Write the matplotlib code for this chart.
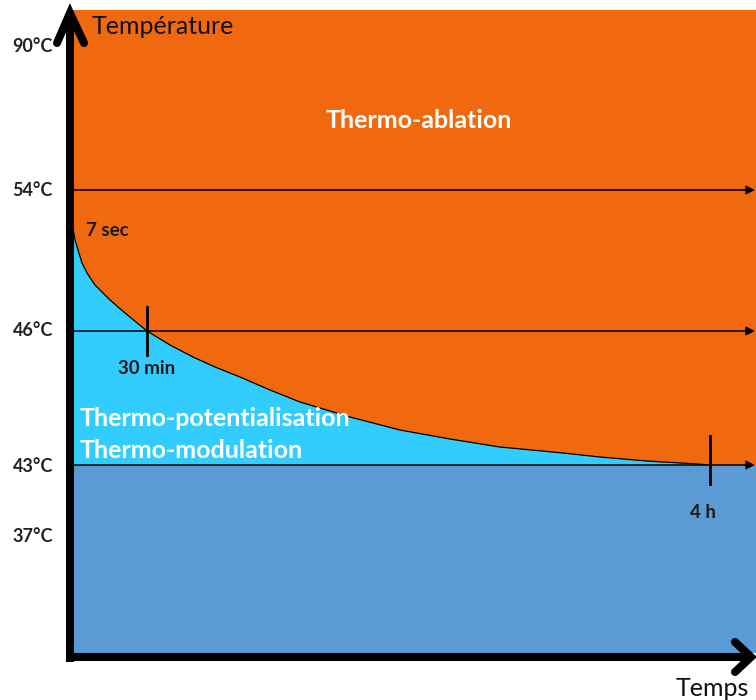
#!/usr/bin/env python3
# Schematic: thermal dose zones (ablation / potentialisation / modulation)
import matplotlib.pyplot as plt
from matplotlib.patches import Rectangle

plt.rcParams['font.family'] = ['Lato', 'DejaVu Sans']

# temperature levels shown on the left, and where they sit on the drawing
TEMP_LABELS = ["90°C", "54°C", "46°C", "43°C", "37°C"]
TEMP_POS = [47, 190, 331, 467, 537]
# thin horizontal threshold arrows (54, 46, 43 °C)
LEVEL_POS = [190, 331, 465]

# iso-effect curve (drawing units)
CURVE_X = [73, 75, 78, 82, 87, 95, 110, 125, 147, 170, 193, 215, 240, 270,
           300, 350, 400, 450, 500, 563, 600, 647, 697, 710]
CURVE_Y = [228, 240, 250, 263, 273, 285, 300, 313, 331, 345, 357, 367, 377, 390,
           402, 417, 430, 439, 447, 453, 457, 461, 464, 465]

# time marks on the curve
TIME_LABELS = ["30 min", "4 h"]
TIME_X = [147, 710]
TIME_Y = [331, 460]

ORANGE = "#F0690F"
CYAN = "#33CCFF"
BLUE = "#5B9BD5"

W, H = 756, 700
fig = plt.figure(figsize=(W / 100, H / 100), dpi=100)
ax = fig.add_axes([0, 0, 1, 1])
ax.set_xlim(0, W)
ax.set_ylim(H, 0)
ax.axis("off")

# zones
ax.add_patch(Rectangle((73, 10), W - 73, 465 - 10, color=ORANGE, lw=0, zorder=1))
ax.add_patch(Rectangle((73, 465), W - 73, 653 - 465, color=BLUE, lw=0, zorder=1))
ax.fill_between(CURVE_X, CURVE_Y, 465, color=CYAN, lw=0, zorder=2)
ax.plot(CURVE_X, CURVE_Y, color="k", lw=0.9, zorder=3)

# threshold arrows
for y in LEVEL_POS:
    ax.annotate("", xy=(755, y), xytext=(73, y), zorder=4,
                arrowprops=dict(arrowstyle="-|>", lw=1.1, color="k",
                                mutation_scale=13, shrinkA=0, shrinkB=0))

# time ticks
for x, y in zip(TIME_X, TIME_Y):
    ax.plot([x, x], [y - 24, y + 24], color="k", lw=2, zorder=5)

# main axes (thick, with chevron heads)
ax.plot([70, 70], [662, 14], color="k", lw=5.8, solid_capstyle="butt", zorder=6)
ax.plot([57, 70, 84], [43, 13, 43], color="k", lw=5.8,
        solid_capstyle="round", solid_joinstyle="miter", zorder=6)
ax.plot([66, 750], [657, 657], color="k", lw=5.8, solid_capstyle="butt", zorder=6)
ax.plot([735, 751, 735], [642, 657, 672], color="k", lw=5.8,
        solid_capstyle="round", solid_joinstyle="miter", zorder=6)

# labels
for lab, y in zip(TEMP_LABELS, TEMP_POS):
    ax.text(53, y, lab, ha="right", va="center", fontsize=13,
            fontweight="bold", color="#222222")
ax.text(92, 26, "Température", ha="left", va="center", fontsize=18, color="#111111")
ax.text(676, 688, "Temps", ha="left", va="center", fontsize=18, color="#111111")

ax.text(419, 120, "Thermo-ablation", ha="center", va="center", fontsize=18,
        fontweight="bold", color="white")
ax.text(80, 418, "Thermo-potentialisation", ha="left", va="center", fontsize=18,
        fontweight="bold", color="white", zorder=7)
ax.text(80, 451, "Thermo-modulation", ha="left", va="center", fontsize=18,
        fontweight="bold", color="white", zorder=7)

ax.text(86, 230, "7 sec", ha="left", va="center", fontsize=13.5,
        fontweight="bold", color="#1a1a1a", zorder=7)
ax.text(147, 368, TIME_LABELS[0], ha="center", va="center", fontsize=13.5,
        fontweight="bold", color="#1a1a1a", zorder=7)
ax.text(703, 512, TIME_LABELS[1], ha="center", va="center", fontsize=13.5,
        fontweight="bold", color="#1a1a1a", zorder=7)

fig.savefig("out.png", dpi=100)
